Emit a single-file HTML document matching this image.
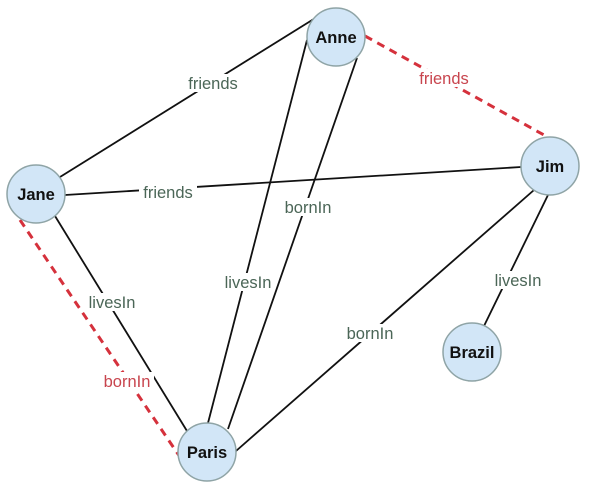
<!DOCTYPE html>
<html><head><style>
html,body{margin:0;padding:0;background:#fff;}
svg{display:block;}
text{font-family:"Liberation Sans",sans-serif;}
.lbl{font-size:16.5px;fill:#4b6657;text-anchor:middle;}
.rl{font-size:16.5px;fill:#c8454e;text-anchor:middle;}
.nm{font-size:16.5px;font-weight:bold;fill:#111;text-anchor:middle;}
</style></head><body>
<svg width="589" height="487" viewBox="0 0 589 487">
<g stroke="#111" stroke-width="1.8" fill="none">
<line x1="317" y1="17" x2="60" y2="177"/>
<line x1="65" y1="195" x2="521" y2="167"/>
<line x1="55" y1="216" x2="187" y2="431"/>
<line x1="307" y1="40" x2="208" y2="423"/>
<line x1="357" y1="58" x2="228" y2="429"/>
<line x1="534" y1="190" x2="236" y2="451"/>
<line x1="548" y1="195" x2="484" y2="326"/>
</g>
<g stroke="#d5313c" stroke-width="3" stroke-dasharray="8,6" fill="none">
<line x1="365" y1="36" x2="553" y2="140"/>
<line x1="20" y1="220" x2="182" y2="460"/>
</g>
<g>
<rect x="184" y="74" width="58" height="18" fill="#fff"/>
<text class="lbl" x="213" y="89">friends</text>
<rect x="415" y="69" width="58" height="18" fill="#fff"/>
<text class="rl" x="444" y="84">friends</text>
<rect x="139" y="183" width="58" height="18" fill="#fff"/>
<text class="lbl" x="168" y="198">friends</text>
<rect x="85" y="293" width="54" height="18" fill="#fff"/>
<text class="lbl" x="112" y="308">livesIn</text>
<rect x="100" y="372" width="54" height="18" fill="#fff"/>
<text class="rl" x="127" y="387">bornIn</text>
<rect x="221" y="273" width="54" height="18" fill="#fff"/>
<text class="lbl" x="248" y="288">livesIn</text>
<rect x="281" y="198" width="54" height="18" fill="#fff"/>
<text class="lbl" x="308" y="213">bornIn</text>
<rect x="343" y="324" width="54" height="18" fill="#fff"/>
<text class="lbl" x="370" y="339">bornIn</text>
<rect x="491" y="271" width="54" height="18" fill="#fff"/>
<text class="lbl" x="518" y="286">livesIn</text>
</g>
<g fill="#d2e6f7" stroke="#8fa4a6" stroke-width="1.5">
<circle cx="336" cy="37" r="29"/>
<circle cx="550" cy="166" r="29"/>
<circle cx="36" cy="194" r="29"/>
<circle cx="472" cy="352" r="29"/>
<circle cx="207" cy="452" r="29"/>
</g>
<text class="nm" x="336" y="43">Anne</text>
<text class="nm" x="550" y="172">Jim</text>
<text class="nm" x="36" y="200">Jane</text>
<text class="nm" x="472" y="358">Brazil</text>
<text class="nm" x="207" y="458">Paris</text>
</svg>
</body></html>
